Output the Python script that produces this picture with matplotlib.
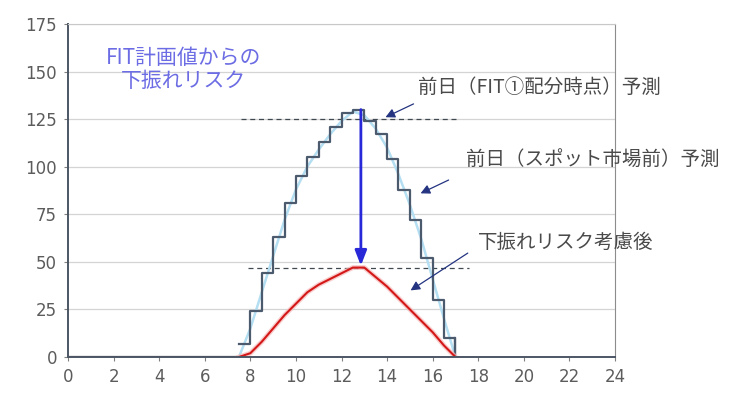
import matplotlib
matplotlib.use("Agg")
import matplotlib.pyplot as plt

plt.rcParams['font.family'] = ['Noto Sans CJK JP', 'DejaVu Sans']

# Half-hour time points (hours)
hours = [7.5, 8.0, 8.5, 9.0, 9.5, 10.0, 10.5, 11.0, 11.5, 12.0, 12.5,
         13.0, 13.5, 14.0, 14.5, 15.0, 15.5, 16.0, 16.5, 17.0]

# Day-ahead forecast before the spot market (stepped, held for each half hour)
spot_forecast = [7, 24, 44, 63, 81, 95, 105, 113, 121, 128, 130,
                 124, 117, 104, 88, 72, 52, 30, 10, 0]

# Day-ahead forecast at FIT allocation time (smooth)
fit_forecast = [0, 15, 34, 53, 72, 88, 100, 109, 117, 124, 129,
                127, 120, 110, 96, 80, 62, 41, 20, 0]

# Forecast after accounting for downside risk
risk_adjusted = [0, 2, 8, 15, 22, 28, 34, 38, 41, 44, 47,
                 47, 42, 37, 31, 25, 19, 13, 6, 0]

fit_peak = 125
risk_peak = 47
arrow_hour = 12.85

x_ticks = list(range(0, 25, 2))
y_ticks = list(range(0, 176, 25))

fig = plt.figure(figsize=(7.33, 3.93), dpi=100)
ax = fig.add_axes([0.0928, 0.0916, 0.7462, 0.8474])

ax.set_xlim(0, 24)
ax.set_ylim(0, 175)
ax.set_xticks(x_ticks)
ax.set_yticks(y_ticks)
ax.tick_params(axis='both', colors='#808080', length=3, direction='out', pad=5)
for lbl in ax.get_xticklabels() + ax.get_yticklabels():
    lbl.set_color('#5c5c5c')
    lbl.set_family('DejaVu Sans')
    lbl.set_fontsize(12)

ax.grid(axis='y', color='#d4d4d4', linewidth=0.9)
ax.set_axisbelow(True)
for side in ['left', 'bottom']:
    ax.spines[side].set_color('#4c5664')
    ax.spines[side].set_linewidth(1.4)
ax.spines['right'].set_color('#8c8c8c')
ax.spines['top'].set_color('#c8c8c8')

# Reference levels
ax.hlines(fit_peak, 7.6, 17.1, colors='#404850', linestyles=(0, (4, 3)), linewidth=0.9)
ax.hlines(risk_peak, 7.9, 17.6, colors='#404850', linestyles=(0, (4, 3)), linewidth=0.9)

# Baseline zero segment before sunrise
ax.plot([0, hours[0]], [0, 0], color='#404850', linewidth=1.6)

# Forecast curves
ax.plot(hours, fit_forecast, color='#b4def2', linewidth=1.8)
ax.step(hours, spot_forecast, where='post', color='#4c5a6e', linewidth=1.6)
ax.plot([hours[-1], hours[-1]], [spot_forecast[-2], 0], color='#4c5a6e', linewidth=1.6)
ax.plot(hours, risk_adjusted, color='#f6b8b8', linewidth=3.5, alpha=0.7)
ax.plot(hours, risk_adjusted, color='#d41818', linewidth=1.5)

# Downside risk arrow
ax.annotate('', xy=(arrow_hour, risk_peak + 1), xytext=(arrow_hour, 130),
            arrowprops=dict(arrowstyle='-|>,head_length=0.9,head_width=0.35',
                            color='#2828d8', linewidth=2.0, shrinkA=0, shrinkB=0))

ax.text(5.05, 151, 'FIT計画値からの\n下振れリスク', ha='center', va='center',
        fontsize=15, color='#6c6ce4', linespacing=1.05)

label_kw = dict(fontsize=14, color='#4a4a4a', va='center', ha='left')
arrow_kw = dict(arrowstyle='-|>,head_length=0.55,head_width=0.28',
                color='#243480', linewidth=0.9, shrinkA=0, shrinkB=0)

ax.text(15.34, 141.5, '前日（FIT①配分時点）予測', **label_kw)
ax.annotate('', xy=(13.93, 126), xytext=(15.16, 133), arrowprops=arrow_kw)

ax.text(17.45, 103.5, '前日（スポット市場前）予測', **label_kw)
ax.annotate('', xy=(15.47, 86), xytext=(16.7, 93), arrowprops=arrow_kw)

ax.text(17.98, 60, '下振れリスク考慮後', **label_kw)
ax.annotate('', xy=(15.03, 35), xytext=(17.54, 54.6), arrowprops=arrow_kw)

fig.savefig('out.png', dpi=100, facecolor='white')
